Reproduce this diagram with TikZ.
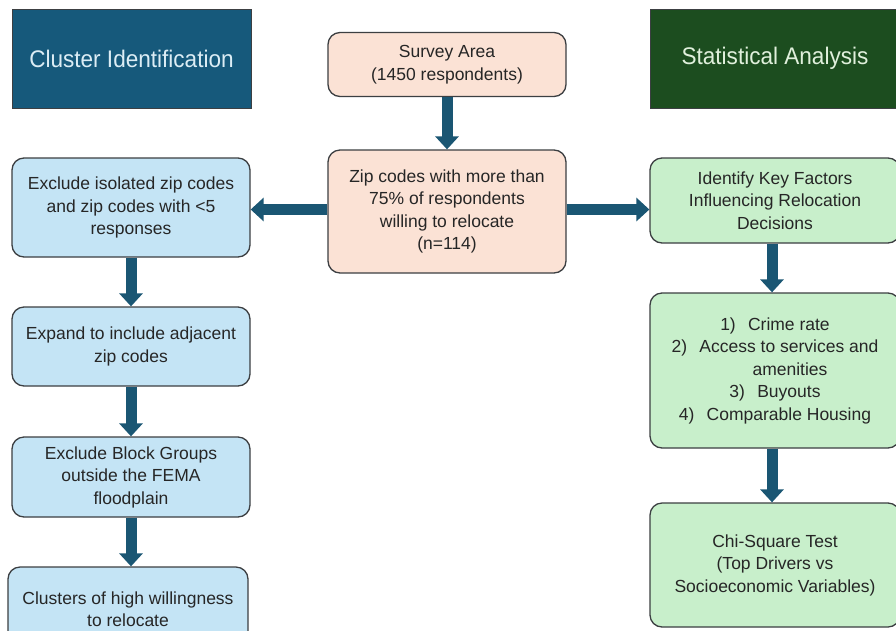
\documentclass[tikz,border=0pt]{standalone}
\usepackage{fontspec}
\setmainfont{Liberation Sans}
\newfontfamily\titlefont[FakeStretch=0.94]{Liberation Sans}
\usetikzlibrary{arrows.meta}
\definecolor{titleblue}{HTML}{16597B}
\definecolor{titlegreen}{HTML}{1C4D1F}
\definecolor{titleblueText}{HTML}{DCEDF5}
\definecolor{titlegreenText}{HTML}{E0F0DC}
\definecolor{boxblue}{HTML}{C4E4F5}
\definecolor{boxgreen}{HTML}{C8EFCB}
\definecolor{boxpeach}{HTML}{FBE2D5}
\definecolor{bordergray}{HTML}{3C3F42}
\definecolor{textgray}{HTML}{262626}
\definecolor{arrowblue}{HTML}{1A5673}
\begin{document}
\begin{tikzpicture}[x=1pt,y=-1pt,
  titlebox/.style={draw=bordergray, line width=0.8pt, rectangle, inner sep=0pt,
    font=\titlefont\fontsize{24}{28}\selectfont},
  flowbox/.style={draw=bordergray, line width=1.3pt, rounded corners=12pt,
    rectangle, inner sep=0pt, align=center, text=textgray,
    font=\fontsize{17.5}{22.5}\selectfont},
  bluebox/.style={flowbox, fill=boxblue, minimum width=238pt},
  greenbox/.style={flowbox, fill=boxgreen, minimum width=250pt},
  peachbox/.style={flowbox, fill=boxpeach, minimum width=238pt},
  arr/.style={draw=arrowblue, line width=11pt, -{Triangle[width=23pt,length=13pt]}}
]
\useasboundingbox (0,0) rectangle (896,630);
\clip (0,0) rectangle (896,630);
\fill[white] (0,0) rectangle (896,630);

% titles
\node[titlebox, fill=titleblue, text=titleblueText, minimum width=239pt, minimum height=99pt]
  (tL) at (131.5,58.5) {Cluster Identification};
\node[titlebox, fill=titlegreen, text=titlegreenText, minimum width=250pt, minimum height=99pt]
  (tR) at (775,58.5) {Statistical Analysis};

% center column
\node[peachbox, minimum height=64pt] (survey) at (447,64.5)
  {Survey Area\\(1450 respondents)};
\node[peachbox, minimum height=123pt] (zip) at (447,211.5)
  {Zip codes with more than\\75\% of respondents\\willing to relocate\\(n=114)};

% left column
\node[bluebox, minimum height=99pt] (L1) at (131,207.5)
  {Exclude isolated zip codes\\and zip codes with <5\\responses};
\node[bluebox, minimum height=79pt] (L2) at (131,346.5)
  {Expand to include adjacent\\zip codes};
\node[bluebox, minimum height=80pt] (L3) at (131,477)
  {Exclude Block Groups\\outside the FEMA\\floodplain};
\node[bluebox, minimum height=84pt, minimum width=240pt] (L4) at (128,609)
  {Clusters of high willingness\\to relocate};

% right column
\node[greenbox, minimum height=85pt] (R1) at (775,200.5)
  {Identify Key Factors\\Influencing Relocation\\Decisions};
\node[greenbox, minimum height=155pt] (R2) at (775,370.5)
  {1)\hspace{0.7em}Crime rate\\
   2)\hspace{0.7em}Access to services and\\
   \hspace*{30pt}amenities\\
   3)\hspace{0.7em}Buyouts\\
   4)\hspace{0.7em}Comparable Housing};
\node[greenbox, minimum height=124pt] (R3) at (775,565)
  {Chi-Square Test\\(Top Drivers vs\\Socioeconomic Variables)};

% connectors
\draw[arr] (survey.south) -- (zip.north);
\draw[arr] ([yshift=2pt]zip.west) -- ([yshift=2pt]zip.west -| L1.east);
\draw[arr] ([yshift=2pt]zip.east) -- ([yshift=2pt]zip.east -| R1.west);
\draw[arr] (L1.south) -- (L2.north);
\draw[arr] (L2.south) -- (L3.north);
\draw[arr] (L3.south) -- (L3.south |- L4.north);
\draw[arr] ([xshift=-3pt]R1.south) -- ([xshift=-3pt]R2.north);
\draw[arr] ([xshift=-3pt]R2.south) -- ([xshift=-3pt]R3.north);
\end{tikzpicture}
\end{document}
